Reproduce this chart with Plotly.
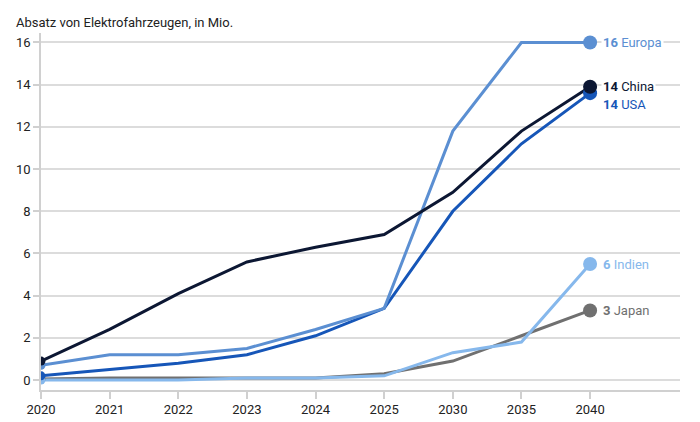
import plotly.graph_objects as go

years = ["2020", "2021", "2022", "2023", "2024", "2025", "2030", "2035", "2040"]
europa = [0.7, 1.2, 1.2, 1.5, 2.4, 3.4, 11.8, 16.0, 16.0]
china = [0.9, 2.4, 4.1, 5.6, 6.3, 6.9, 8.9, 11.8, 13.9]
usa = [0.2, 0.5, 0.8, 1.2, 2.1, 3.4, 8.0, 11.2, 13.6]
indien = [0.0, 0.0, 0.0, 0.1, 0.1, 0.2, 1.3, 1.8, 5.5]
japan = [0.05, 0.1, 0.1, 0.1, 0.1, 0.3, 0.9, 2.1, 3.3]

series = [
    ("Japan", japan, "#707070", "3", 0),
    ("Indien", indien, "#86b8ec", "6", 0),
    ("USA", usa, "#1656b8", "14", -11),
    ("Europa", europa, "#5b8fd2", "16", 0),
    ("China", china, "#0c1733", "14", 0),
]

FONT = "Roboto"
W, H = 700, 422
plot_l, plot_r, plot_t, plot_b = 41, 20, 33, 32
pw, ph = W - plot_l - plot_r, H - plot_t - plot_b

fig = go.Figure()
for name, vals, col, lab, ys in series:
    fig.add_trace(go.Scatter(
        x=years, y=vals, mode="lines", line=dict(color=col, width=3),
        name=name, hoverinfo="skip"))
for name, vals, col, lab, ys in series:
    fig.add_trace(go.Scatter(
        x=[years[0], years[-1]], y=[vals[0], vals[-1]], mode="markers",
        marker=dict(color=col, size=[9, 14], opacity=1, line=dict(color=col, width=0)),
        hoverinfo="skip"))

last = len(years) - 1
annotations = []
for name, vals, col, lab, ys in series:
    annotations.append(dict(
        x=last, y=vals[-1], xref="x", yref="y", xanchor="left", yanchor="middle",
        xshift=11, yshift=ys, showarrow=False, bgcolor="white",
        text=f"<b>{lab}</b> {name}", font=dict(family=FONT, size=13, color=col)))
annotations.append(dict(
    x=(14 - plot_l) / pw, y=(H - plot_b - 22) / ph, xref="paper", yref="paper",
    showarrow=False, xanchor="left", yanchor="middle",
    text="Absatz von Elektrofahrzeugen, in Mio.",
    font=dict(family=FONT, size=13, color="#222")))

fig.update_layout(
    width=W, height=H, showlegend=False,
    margin=dict(l=plot_l, r=plot_r, t=plot_t, b=plot_b),
    plot_bgcolor="white", paper_bgcolor="white",
    font=dict(family=FONT, size=13, color="#222"),
    annotations=annotations,
    xaxis=dict(type="category", range=[0, 9.31], showgrid=False, automargin=False,
               showline=True, linecolor="#d0d0d0", linewidth=1.5,
               ticks="outside", ticklen=7, tickcolor="#d0d0d0", tickwidth=1.5,
               tickfont=dict(family=FONT, size=13, color="#222"), zeroline=False),
    yaxis=dict(range=[-0.47, 16.45], tickvals=[0, 2, 4, 6, 8, 10, 12, 14, 16],
               automargin=False,
               showgrid=True, gridcolor="#dcdcdc", gridwidth=1.5,
               showline=True, linecolor="#d0d0d0", linewidth=1.5,
               ticks="outside", ticklen=6, tickcolor="#d0d0d0", tickwidth=1.5,
               tickfont=dict(family=FONT, size=13, color="#222"), zeroline=False),
)
fig.write_html("out.html", config={"displayModeBar": False},
               post_script="document.body.style.margin='0';")
